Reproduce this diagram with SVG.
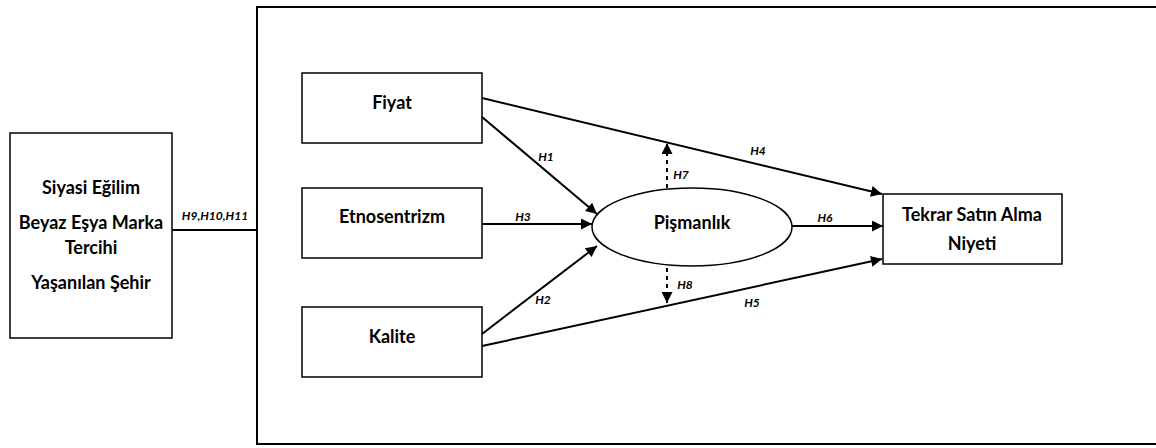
<svg xmlns="http://www.w3.org/2000/svg" width="1156" height="448" viewBox="0 0 1156 448">
<style>
.box{fill:#fff;stroke:#000;stroke-width:1.5}
.t{font-family:Lato,"Open Sans",sans-serif;font-weight:bold;font-size:18px;fill:#000;text-anchor:middle}
.l{font-family:Lato,"Open Sans",sans-serif;font-weight:bold;font-style:italic;font-size:12px;fill:#000;text-anchor:middle}
.c{stroke:#000;stroke-width:2;fill:none}
.d{stroke:#000;stroke-width:2;fill:none;stroke-dasharray:4,4}
</style>
<defs>
<marker id="a" viewBox="0 0 10 10" refX="10" refY="5" markerWidth="6.5" markerHeight="5.5" markerUnits="strokeWidth" orient="auto">
<path d="M0,0 L10,5 L0,10 z" fill="#000"/>
</marker>
</defs>
<g id="frame"><rect x="257" y="7" width="910" height="437" fill="none" stroke="#000" stroke-width="2"/></g>
<g id="controls"><rect class="box" x="10" y="133" width="162" height="205"/>
<text class="t" x="91" y="194">Siyasi Eğilim</text>
<text class="t" x="91" y="229">Beyaz Eşya Marka</text>
<text class="t" x="91" y="254">Tercihi</text>
<text class="t" x="91" y="289">Yaşanılan Şehir</text></g>
<g id="fiyat"><rect class="box" x="302" y="73" width="180" height="70"/><text class="t" x="392" y="109">Fiyat</text></g>
<g id="etno"><rect class="box" x="302" y="188" width="180" height="70"/><text class="t" x="392" y="223">Etnosentrizm</text></g>
<g id="kalite"><rect class="box" x="302" y="307" width="180" height="70"/><text class="t" x="392" y="343">Kalite</text></g>
<g id="pismanlik"><ellipse class="box" cx="692" cy="227" rx="100" ry="39"/><text class="t" x="692" y="229">Pişmanlık</text></g>
<g id="niyet"><rect class="box" x="883" y="194" width="179" height="70"/>
<text class="t" x="972" y="221">Tekrar Satın Alma</text><text class="t" x="972" y="250">Niyeti</text></g>
<g id="connectors">
<line class="c" x1="172" y1="230" x2="257" y2="230"/>
<line class="c" x1="482" y1="117" x2="597" y2="214" marker-end="url(#a)"/>
<line class="c" x1="482" y1="224" x2="592" y2="224" marker-end="url(#a)"/>
<line class="c" x1="482" y1="334" x2="597" y2="246" marker-end="url(#a)"/>
<line class="c" x1="482" y1="98" x2="882" y2="194" marker-end="url(#a)"/>
<line class="c" x1="482" y1="346" x2="882" y2="259" marker-end="url(#a)"/>
<line class="c" x1="792" y1="226" x2="883" y2="226" marker-end="url(#a)"/>
<line class="d" x1="667" y1="188" x2="667" y2="143" marker-end="url(#a)"/>
<line class="d" x1="667" y1="268" x2="667" y2="303" marker-end="url(#a)"/>
</g>
<g id="labels">
<text class="l" x="215" y="220">H9,H10,H11</text>
<text class="l" x="546" y="161">H1</text>
<text class="l" x="523" y="221">H3</text>
<text class="l" x="543" y="304">H2</text>
<text class="l" x="758" y="155">H4</text>
<text class="l" x="681" y="179">H7</text>
<text class="l" x="825" y="222">H6</text>
<text class="l" x="685" y="289">H8</text>
<text class="l" x="752" y="307">H5</text>
</g>
</svg>
